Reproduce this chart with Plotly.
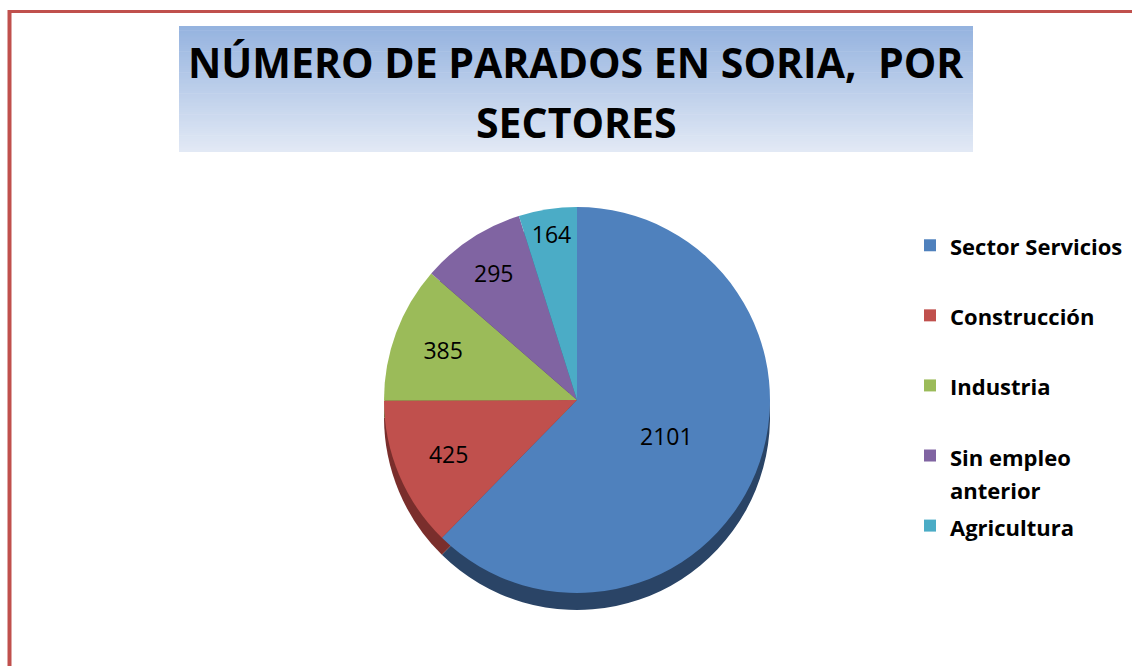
import plotly.graph_objects as go

# ---- data ----
sectors = ["Sector Servicios", "Construcción", "Industria", "Sin empleo anterior", "Agricultura"]
parados = [2101, 425, 385, 295, 164]
legend_lines = [["Sector Servicios", " "], ["Construcción", " "], ["Industria", " "],
                ["Sin empleo", "anterior"], ["Agricultura", " "]]
title_line1 = "NÚMERO DE PARADOS EN SORIA,&nbsp; POR"
title_line2 = "SECTORES"

colors = ["#4F81BD", "#C0504D", "#9BBB59", "#8064A2", "#4BACC6"]
dark_colors = ["#2A4466", "#7A2E2C", "#5E7634", "#4C3A63", "#2B6D80"]

legend_labels = ["<br>".join("<span style='font-size:22px'>%s</span>" % s for s in lines)
                 for lines in legend_lines]

W, H = 1132, 666

def px_x(x):
    return x / W

def px_y(y):
    return 1 - y / H

cx, cy, D, depth = 577, 400, 386, 17

def domain(cx, cy):
    return dict(x=[px_x(cx - D / 2), px_x(cx + D / 2)],
                y=[px_y(cy + D / 2), px_y(cy - D / 2)])

fig = go.Figure()
# side (3D rim) pie
fig.add_trace(go.Pie(
    labels=legend_labels, values=parados, sort=False, direction="clockwise", rotation=0,
    marker=dict(colors=dark_colors, line=dict(width=0)),
    textinfo="none", showlegend=False, hoverinfo="skip",
    domain=domain(cx, cy + depth),
))
# top pie
fig.add_trace(go.Pie(
    labels=legend_labels, values=parados, sort=False, direction="clockwise", rotation=0,
    marker=dict(colors=colors, line=dict(width=0)),
    textinfo="value", textposition="inside", insidetextorientation="horizontal",
    textfont=dict(family="Open Sans", size=23, color="black"),
    domain=domain(cx, cy),
))

shapes = []
# gradient title box
x0, x1, y0, y1 = 179, 973, 26, 152
n = 60
top_rgb = (149, 179, 223)
bot_rgb = (226, 233, 245)
for i in range(n):
    t = i / (n - 1)
    c = tuple(int(round(top_rgb[k] + (bot_rgb[k] - top_rgb[k]) * t)) for k in range(3))
    ya = y0 + (y1 - y0) * i / n
    yb = y0 + (y1 - y0) * (i + 1) / n + 0.6
    shapes.append(dict(type="rect", xref="paper", yref="paper",
                       x0=px_x(x0), x1=px_x(x1), y0=px_y(min(yb, y1)), y1=px_y(ya),
                       fillcolor="rgb(%d,%d,%d)" % c, line=dict(width=0), layer="below"))
# red frame lines
shapes.append(dict(type="line", xref="paper", yref="paper", x0=px_x(9.5), x1=px_x(9.5),
                   y0=0, y1=px_y(10), line=dict(color="#C0504D", width=4)))
shapes.append(dict(type="line", xref="paper", yref="paper", x0=px_x(8), x1=1,
                   y0=px_y(11.5), y1=px_y(11.5), line=dict(color="#C0504D", width=3)))

annotations = [
    dict(text="<b>%s</b>" % title_line1, x=px_x(576), y=px_y(62), xref="paper", yref="paper",
         showarrow=False, font=dict(family="Open Sans", size=41, color="black"),
         xanchor="center", yanchor="middle"),
    dict(text="<b>%s</b>" % title_line2, x=px_x(576), y=px_y(122), xref="paper", yref="paper",
         showarrow=False, font=dict(family="Open Sans", size=41, color="black"),
         xanchor="center", yanchor="middle"),
]

fig.update_layout(
    width=W, height=H, autosize=False,
    margin=dict(l=0, r=0, t=0, b=0),
    paper_bgcolor="white", plot_bgcolor="white",
    shapes=shapes, annotations=annotations,
    legend=dict(x=px_x(910), y=px_y(222), xanchor="left", yanchor="top",
                font=dict(family="Open Sans", size=25.8, color="black", weight="bold"),
                valign="top", bgcolor="rgba(0,0,0,0)", traceorder="normal"),
)

fig.write_html("out.html", post_script="document.body.style.margin='0';",
               config={"displayModeBar": False})
